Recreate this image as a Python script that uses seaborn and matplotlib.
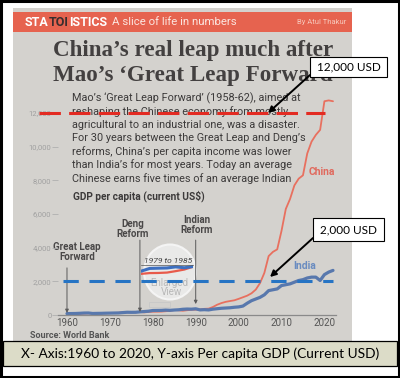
import numpy as np
import pandas as pd
import matplotlib
matplotlib.use("Agg")
import matplotlib.pyplot as plt
import seaborn as sns
from matplotlib.patches import Rectangle, Ellipse

# data (GDP per capita, current USD)
years = list(range(1960, 2023))
china_gdp = [90, 76, 70, 74, 85, 98, 104, 96, 91, 100,
             113, 119, 132, 157, 160, 178, 165, 185, 156, 183,
             195, 197, 203, 225, 250, 294, 281, 252, 284, 311,
             318, 333, 366, 377, 473, 610, 709, 782, 829, 873,
             959, 1053, 1149, 1289, 1509, 1900, 2500, 3500, 3750, 3900,
             5000, 6300, 6900, 7700, 8100, 8300, 9600, 10300, 10700, 11000,
             12700, 12750, 12700]
india_gdp = [83, 86, 90, 101, 116, 119, 90, 96, 99, 107,
             112, 118, 122, 143, 163, 158, 161, 186, 206, 224,
             267, 271, 274, 291, 277, 296, 310, 340, 354, 346,
             368, 303, 317, 301, 346, 374, 400, 415, 430, 460,
             480, 530, 700, 850, 950, 1050, 1200, 1450, 1500, 1550,
             1750, 1800, 1850, 1950, 2050, 2100, 2200, 2250, 2250, 2050,
             2400, 2550, 2650]
x_ticks = [1960, 1970, 1980, 1990, 2000, 2010, 2020]
y_ticks = [0, 2000, 4000, 6000, 8000, 10000, 12000]
reform_years = [1960, 1977, 1990]
reform_labels = ["Great Leap\nForward", "Deng\nReform", "Indian\nReform"]
zoom_years = [1979, 1985]
levels = [12000, 2000]
level_labels = ["12,000 USD", "2,000 USD"]

body = ["Mao\u2019s \u2018Great Leap Forward\u2019 (1958-62), aimed at",
        "reshaping the Chinese economy from mostly",
        "agricultural to an industrial one, was a disaster.",
        "For 30 years between the Great Leap and Deng\u2019s",
        "reforms, China\u2019s per capita income was lower",
        "than India\u2019s for most years. Today an average",
        "Chinese earns five times of an average Indian"]

df = pd.DataFrame({"year": years + years,
                   "gdp": china_gdp + india_gdp,
                   "country": ["China"] * len(years) + ["India"] * len(years)})

sns.set_theme(style="white")
narrow = ["Liberation Sans Narrow", "Roboto", "DejaVu Sans"]
plt.rcParams["font.family"] = narrow

W, H = 400, 378
paper = "#d4d2ce"
red_line = "#e8705f"
blue_line = "#5878ad"
ink = "#3c3a3a"

fig = plt.figure(figsize=(4, 3.78), dpi=100)
fig.patch.set_facecolor("white")

# background axes in pixel coords for the newspaper clipping
bg = fig.add_axes([0, 0, 1, 1], zorder=-5)
bg.set_xlim(0, W)
bg.set_ylim(H, 0)
bg.axis("off")
bg.add_patch(Rectangle((13, 8), 339, 333, color=paper, lw=0))
bg.add_patch(Rectangle((13, 12), 339, 20, color="#e6634f", lw=0))

# banner text
r = fig.canvas.get_renderer()
x0 = 25
for part, col in [("STA", "white"), ("TOI", "#3a2e2e"), ("ISTICS", "white")]:
    t = bg.text(x0, 22, part, color=col, fontsize=9, fontweight="bold", va="center", ha="left")
    bb = t.get_window_extent(r)
    x0 += bb.width
bg.text(x0 + 5, 22, "A slice of life in numbers", color="#fbe6e0", fontsize=8.2, va="center", ha="left")
bg.text(346, 22, "By Atul Thakur", color="#f6c8bc", fontsize=5.5, va="center", ha="right")

# headline
for i, line in enumerate(["China\u2019s real leap much after", "Mao\u2019s \u2018Great Leap Forward\u2019"]):
    bg.text(53, 56 + 25 * i, line, family=["Liberation Serif", "DejaVu Serif"], fontweight="bold",
            fontsize=16.6, color="#434040", va="baseline", ha="left")

for i, line in enumerate(body):
    bg.text(72, 98 + 13.4 * i, line, fontsize=7.8, color=ink, va="center", ha="left")
bg.text(73, 196, "GDP per capita (current US$)", fontsize=7.3, fontweight="bold", color=ink, va="center")
bg.text(30, 335, "Source: World Bank", fontsize=6.5, fontweight="bold", color="#555555", va="center")

# enlarged view bubble
bg.add_patch(Ellipse((170, 272), 52, 55, fc="#ececec", ec="#f7f7f7", lw=1.5, alpha=0.9))
bg.text(168, 261, "1979 to 1985", fontsize=6, style="italic", color="#444444", ha="center", va="center")
bg.text(169, 283, "Enlarged", fontsize=7, color="#b8b8b8", ha="center", va="center")
bg.text(171, 292, "View", fontsize=7, color="#b8b8b8", ha="center", va="center")

# main chart
ax = fig.add_axes([58.4 / W, 63 / H, 277.6 / W, 218.8 / H], zorder=1)
ax.patch.set_alpha(0)
sns.lineplot(data=df, x="year", y="gdp", hue="country", palette={"China": red_line, "India": blue_line},
             size="country", sizes={"China": 1.3, "India": 2.3}, legend=False, ax=ax)
ax.set_xlim(1958, 2022.7)
ax.set_ylim(0, 13000)
ax.set_xticks(x_ticks)
ax.set_yticks(y_ticks)
ax.set_yticklabels([f"{v:,}" for v in y_ticks])
ax.set_xlabel("")
ax.set_ylabel("")
for s in ["top", "right", "left"]:
    ax.spines[s].set_visible(False)
ax.spines["bottom"].set_color("#8a8a8a")
ax.spines["bottom"].set_linewidth(0.9)
ax.tick_params(axis="x", length=0, pad=2.5, labelsize=7, labelcolor="#555555")
ax.tick_params(axis="y", length=4, width=0.6, pad=1, color="#b0b0b0", labelsize=5.5, labelcolor="#a0a0a0", left=True)

# reform arrows
tops = [2800, 4450, 4450]
ends = [120, 180, 650]
for yr, top_v, end_v in zip(reform_years, tops, ends):
    ax.annotate("", xy=(yr, end_v), xytext=(yr, top_v),
                arrowprops=dict(arrowstyle="-|>", color="#5a5a5a", lw=0.7, mutation_scale=5,
                                shrinkA=0, shrinkB=0))
for (lx, ly), lab in zip([(77, 252), (133, 229), (197, 225)], reform_labels):
    bg.text(lx, ly, lab, fontsize=7, fontweight="bold", color="#4a4848", ha="center", va="center",
            linespacing=1.0)

# small rectangle marking the enlarged years
ax.add_patch(Rectangle((zoom_years[0], 450), zoom_years[1] - zoom_years[0] - 1, 300,
                       fill=False, ec="#c8c8c8", lw=0.6))

ax.text(2019.5, 8500, "China", color="#e06a5e", fontsize=7.5, fontweight="bold", ha="center", va="center")
ax.text(2015.5, 2900, "India", color="#6a8cc0", fontsize=7.5, fontweight="bold", ha="center", va="center")

# dashed level lines (annotation overlay)
ax.hlines(levels[0], 1953.5, 2020.1, colors="#e32b22", lw=2.2, linestyles=(0, (7, 2.7)), clip_on=False, zorder=5)
ax.hlines(levels[1], 1959.0, 2022.0, colors="#2674c4", lw=2.2, linestyles=(0, (5, 3.5)), clip_on=False, zorder=5)

# inset with the 1979-85 lines
ins = fig.add_axes([141 / W, 1 - 276 / H, 52 / W, 11 / H], zorder=2)
ins.patch.set_alpha(0)
sub = df[(df["year"] >= zoom_years[0]) & (df["year"] <= zoom_years[1])]
sns.lineplot(data=sub, x="year", y="gdp", hue="country", palette={"China": "#e85a4a", "India": "#3d6fc0"},
             size="country", sizes={"China": 1.6, "India": 2.2}, legend=False, ax=ins)
ins.set_xlim(zoom_years[0], zoom_years[1])
ins.set_ylim(150, 320)
ins.set_xticks([])
ins.set_yticks([])
ins.set_xlabel("")
ins.set_ylabel("")
for s in ["bottom", "right", "left"]:
    ins.spines[s].set_visible(False)
ins.spines["top"].set_color("#555555")
ins.spines["top"].set_linewidth(0.5)

# overlay: callouts, caption box, frame
top = fig.add_axes([0, 0, 1, 1], zorder=10)
top.set_xlim(0, W)
top.set_ylim(H, 0)
top.axis("off")
top.patch.set_alpha(0)
callout_font = ["Lato", "DejaVu Sans"]
boxes = [(310, 57, 77, 20, (310, 75), (268, 113)), (313, 218, 71, 23, (313, 238), (270, 277))]
for (bx, by, bw, bh, tail, head), lab in zip(boxes, level_labels):
    top.annotate("", xy=head, xytext=tail,
                 arrowprops=dict(arrowstyle="-|>", color="black", lw=1.4, mutation_scale=9,
                                 shrinkA=0, shrinkB=0))
    top.add_patch(Rectangle((bx, by), bw, bh, fc="white", ec="black", lw=0.8))
    top.text(bx + bw / 2, by + bh / 2, lab, family=callout_font, fontsize=8.5, color="black",
             ha="center", va="center")

top.add_patch(Rectangle((3, 341), 394, 25, fc="#dcdcc8", ec="black", lw=0.9))
top.text(200, 354, "X- Axis:1960 to 2020, Y-axis Per capita GDP (Current USD)", family=callout_font,
         fontsize=9.9, color="black", ha="center", va="center")
top.add_patch(Rectangle((1.2, 1.2), W - 2.4, H - 2.4, fill=False, ec="black", lw=2.2))

fig.savefig("out.png", dpi=100)
